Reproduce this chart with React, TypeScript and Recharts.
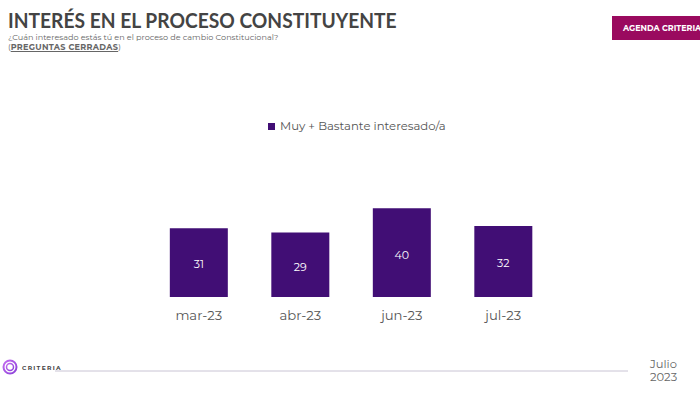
import { BarChart, Bar, XAxis, YAxis, LabelList } from "recharts";

const months = ["mar-23", "abr-23", "jun-23", "jul-23"];
const interested = [31, 29, 40, 32];
const seriesName = "Muy + Bastante interesado/a";

const data = months.map((m, i) => ({ name: m, value: interested[i] }));

const BAR_COLOR = "#410e75";
const FONT = "Montserrat, 'Open Sans', Lato, sans-serif";

export default function App() {
  return (
    <div
      style={{
        position: "absolute",
        left: 0,
        top: 0,
        width: 700,
        height: 396,
        background: "#fff",
        fontFamily: FONT,
        overflow: "hidden",
      }}
    >
      {/* Header */}
      <div
        style={{
          position: "absolute",
          left: 8,
          top: 7,
          fontSize: 21,
          fontWeight: 700,
          color: "#444",
          fontFamily: "Lato, sans-serif",
          whiteSpace: "nowrap",
          transformOrigin: "left top",
          transform: "scaleX(0.915)",
        }}
      >
        INTERÉS EN EL PROCESO CONSTITUYENTE
      </div>
      <div style={{ position: "absolute", left: 8, top: 32, fontSize: 8.1, color: "#666", whiteSpace: "nowrap" }}>
        ¿Cuán interesado estás tú en el proceso de cambio Constitucional?
      </div>
      <div style={{ position: "absolute", left: 8, top: 42, fontSize: 8.1, color: "#666", whiteSpace: "nowrap" }}>
        (<span style={{ fontWeight: 700, textDecoration: "underline", letterSpacing: 0.3 }}>PREGUNTAS CERRADAS</span>)
      </div>
      <div
        style={{
          position: "absolute",
          left: 612,
          top: 16,
          width: 88,
          height: 24,
          background: "#9a0a5f",
          color: "#fff",
          fontSize: 8,
          fontWeight: 700,
          lineHeight: "24px",
          paddingLeft: 11,
          boxSizing: "border-box",
          whiteSpace: "nowrap",
        }}
      >
        AGENDA CRITERIA
      </div>

      {/* Legend */}
      <div
        style={{
          position: "absolute",
          left: 268,
          top: 119,
          display: "flex",
          alignItems: "center",
          fontSize: 11.7,
          color: "#555",
          whiteSpace: "nowrap",
        }}
      >
        <span style={{ display: "inline-block", width: 7, height: 7, background: BAR_COLOR, marginRight: 5 }} />
        {seriesName}
      </div>

      <div style={{ position: "absolute", left: 0, top: 0 }}>
        <BarChart
          width={700}
          height={396}
          data={data}
          margin={{ top: 186, right: 146, left: 148, bottom: 69 }}
          barCategoryGap="21.5%"
        >
          <YAxis hide domain={[0, 50]} />
          <XAxis
            dataKey="name"
            axisLine={false}
            tickLine={false}
            tickMargin={8}
            height={30}
            tick={{ fill: "#555", fontSize: 13.2, fontFamily: FONT }}
          />
          <Bar dataKey="value" fill={BAR_COLOR} isAnimationActive={false}>
            <LabelList
              dataKey="value"
              position="center"
              fill="#fff"
              fontSize={11}
              fontFamily={FONT}
              dy={2}
            />
          </Bar>
        </BarChart>
      </div>

      {/* Footer */}
      <svg style={{ position: "absolute", left: 0, top: 356 }} width={640} height={22}>
        <defs>
          <linearGradient id="logoGrad" x1="0" y1="0" x2="1" y2="1">
            <stop offset="0%" stopColor="#c46cf0" />
            <stop offset="100%" stopColor="#8a3fd8" />
          </linearGradient>
        </defs>
        <circle cx={10} cy={11} r={6.5} fill="none" stroke="url(#logoGrad)" strokeWidth={2} />
        <circle cx={10} cy={11} r={3.5} fill="none" stroke="url(#logoGrad)" strokeWidth={1.5} />
        <text x={22} y={14} fontSize={6} fontWeight={700} fill="#444" letterSpacing={1.3} fontFamily={FONT}>
          CRITERIA
        </text>
        <line x1={55} y1={15} x2={628} y2={15} stroke="#c9c4d4" strokeWidth={1} />
      </svg>
      <div
        style={{
          position: "absolute",
          left: 650,
          top: 358,
          fontSize: 11.5,
          color: "#666",
          lineHeight: "13px",
        }}
      >
        Julio
        <br />
        2023
      </div>
    </div>
  );
}
